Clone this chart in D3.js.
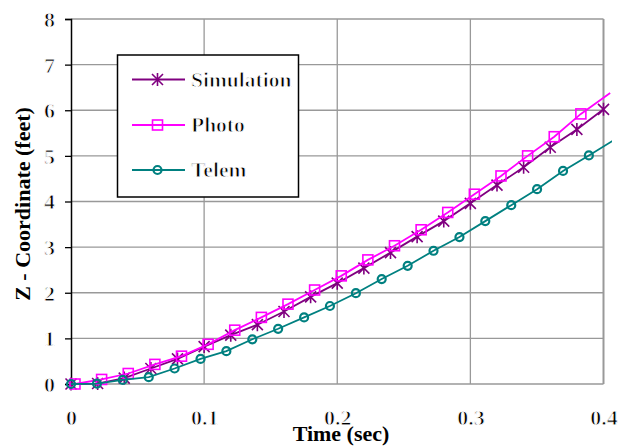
<!DOCTYPE html>
<html>
<head>
<meta charset="utf-8">
<script src="https://cdn.jsdelivr.net/npm/d3@7"></script>
<style>
  html, body { margin: 0; padding: 0; background: #fff; }
  /* the regular serif face is thinned from the heavier cut with a fine white outline */
  .serif { font-family: "Liberation Serif", "DejaVu Serif", serif; font-weight: 600;
           stroke: #fff; stroke-width: 0.9px; paint-order: fill; }
  .serif-bold { font-family: "Liberation Serif", "DejaVu Serif", serif; font-weight: 700; }
</style>
</head>
<body>
<svg id="chart" width="619" height="446"></svg>
<script>
// Z-coordinate vs time for three measurement sources
const simTime   = [0, 0.02, 0.04, 0.06, 0.08, 0.10, 0.12, 0.14, 0.16, 0.18, 0.20, 0.22, 0.24, 0.26, 0.28, 0.30, 0.32, 0.34, 0.36, 0.38, 0.40];
const simZ      = [0, 0.01, 0.13, 0.34, 0.55, 0.82, 1.07, 1.30, 1.59, 1.91, 2.21, 2.54, 2.88, 3.23, 3.57, 3.96, 4.36, 4.75, 5.19, 5.58, 6.02];

const photoTime = [0.003, 0.023, 0.043, 0.063, 0.083, 0.103, 0.123, 0.143, 0.163, 0.183, 0.203, 0.223, 0.243, 0.263, 0.283, 0.303, 0.323, 0.343, 0.363, 0.383, 0.405];
const photoZ    = [0, 0.10, 0.23, 0.43, 0.61, 0.87, 1.18, 1.46, 1.75, 2.06, 2.37, 2.72, 3.03, 3.38, 3.76, 4.16, 4.56, 5.00, 5.42, 5.92, 6.38];

const telemTime = [0, 0.0195, 0.0389, 0.0584, 0.0778, 0.0973, 0.1167, 0.1362, 0.1556, 0.1751, 0.1945, 0.214, 0.2334, 0.2529, 0.2723, 0.2918, 0.3112, 0.3307, 0.3501, 0.3696, 0.389, 0.4085];
const telemZ    = [0, 0.01, 0.09, 0.15, 0.34, 0.55, 0.72, 0.98, 1.21, 1.46, 1.71, 1.99, 2.30, 2.59, 2.92, 3.22, 3.57, 3.92, 4.27, 4.67, 5.01, 5.36];

const xTicks = [0, 0.1, 0.2, 0.3, 0.4];
const yTicks = [0, 1, 2, 3, 4, 5, 6, 7, 8];
const seriesNames = ["Simulation", "Photo", "Telem"];

const svg = d3.select("#chart");
const plotLeft = 71, plotRight = 603.5, plotTop = 19, plotBottom = 384;

const x = d3.scaleLinear().domain([0, 0.4]).range([plotLeft, plotRight]);
const y = d3.scaleLinear().domain([0, 8]).range([plotBottom, plotTop]);

const grid = "#999999";

// horizontal gridlines
svg.append("g").selectAll("line").data(yTicks).join("line")
  .attr("x1", plotLeft).attr("x2", plotRight)
  .attr("y1", d => y(d)).attr("y2", d => y(d))
  .attr("stroke", grid).attr("stroke-width", 1.3);

// vertical gridlines
svg.append("g").selectAll("line").data(xTicks.slice(1)).join("line")
  .attr("x1", d => x(d)).attr("x2", d => x(d))
  .attr("y1", plotTop).attr("y2", plotBottom)
  .attr("stroke", grid).attr("stroke-width", d => d === 0.4 ? 2 : 1.3);

// y axis
const yAxis = d3.axisLeft(y).tickValues(yTicks).tickSize(6).tickFormat(d3.format("d"));
const gy = svg.append("g").attr("transform", `translate(${plotLeft},0)`).call(yAxis);
gy.attr("font-family", null).attr("font-size", null);
gy.select(".domain").attr("stroke", "#000").attr("stroke-width", 1.5);
gy.selectAll(".tick line").attr("stroke", "#000").attr("stroke-width", 1.3);
gy.selectAll(".tick text")
  .attr("class", "serif").style("font-size", "22px")
  .attr("x", -16).attr("dy", "0.34em")
  .attr("fill", "#000");

// x axis labels (no tick marks, labels sit below the plot)
const xAxis = d3.axisBottom(x).tickValues(xTicks).tickSize(0)
  .tickFormat(d => d === 0 ? "0" : d3.format(".1f")(d));
const gx = svg.append("g").attr("transform", `translate(0,${plotBottom})`).call(xAxis);
gx.attr("font-family", null).attr("font-size", null);
gx.select(".domain").remove();
gx.selectAll(".tick text")
  .attr("class", "serif").style("font-size", "22px")
  .attr("y", 41).attr("dy", 0)
  .attr("fill", "#000");

// axis titles
svg.append("text")
  .attr("class", "serif-bold").style("font-size", "22px")
  .attr("x", 341).attr("y", 441)
  .attr("text-anchor", "middle")
  .text("Time (sec)");

svg.append("text")
  .attr("class", "serif-bold").style("font-size", "22px")
  .attr("transform", "translate(30,204) rotate(-90)")
  .attr("text-anchor", "middle")
  .text("Z - Coordinate (feet)");

// clip for the data lines
svg.append("clipPath").attr("id", "dataClip")
  .append("rect").attr("x", 0).attr("y", 0).attr("width", 612).attr("height", 446);

const series = [
  { name: seriesNames[0], t: simTime,   z: simZ,   color: "#800080", marker: "star" },
  { name: seriesNames[1], t: photoTime, z: photoZ, color: "#FF00FF", marker: "square" },
  { name: seriesNames[2], t: telemTime, z: telemZ, color: "#008080", marker: "circle" }
];

function drawMarker(g, type, color) {
  if (type === "star") {
    const r = 5.5;
    g.append("path")
      .attr("d", `M${-r},${-r}L${r},${r}M${-r},${r}L${r},${-r}M0,${-r - 1}L0,${r + 1}`)
      .attr("stroke", color).attr("stroke-width", 1.6).attr("fill", "none");
  } else if (type === "square") {
    g.append("rect").attr("x", -5).attr("y", -5).attr("width", 10).attr("height", 10)
      .attr("fill", "none").attr("stroke", color).attr("stroke-width", 1.6);
  } else {
    g.append("circle").attr("r", 4)
      .attr("fill", "none").attr("stroke", color).attr("stroke-width", 2.2);
  }
}

const line = d3.line().x(d => x(d[0])).y(d => y(d[1]));

series.forEach(s => {
  const pts = s.t.map((t, i) => [t, s.z[i]]);
  svg.append("path")
    .datum(pts)
    .attr("clip-path", "url(#dataClip)")
    .attr("d", line)
    .attr("fill", "none")
    .attr("stroke", s.color)
    .attr("stroke-width", 1.8);
  const mg = svg.append("g");
  pts.filter(p => p[0] <= 0.4).forEach(p => {
    const g = mg.append("g").attr("transform", `translate(${x(p[0])},${y(p[1])})`);
    drawMarker(g, s.marker, s.color);
  });
});

// legend
const lg = svg.append("g");
lg.append("rect")
  .attr("x", 117.5).attr("y", 55).attr("width", 181).attr("height", 142)
  .attr("fill", "#fff").attr("stroke", "#000").attr("stroke-width", 1.5);
const legendY = [79.5, 125, 170];
series.forEach((s, i) => {
  const ly = legendY[i];
  lg.append("line").attr("x1", 132).attr("x2", 185).attr("y1", ly).attr("y2", ly)
    .attr("stroke", s.color).attr("stroke-width", 1.8);
  const g = lg.append("g").attr("transform", `translate(157.5,${ly})`);
  drawMarker(g, s.marker, s.color);
  lg.append("text").attr("class", "serif").style("font-size", "21.5px")
    .attr("x", 191).attr("y", ly).attr("dy", "0.34em")
    .text(s.name);
});
</script>
</body>
</html>
